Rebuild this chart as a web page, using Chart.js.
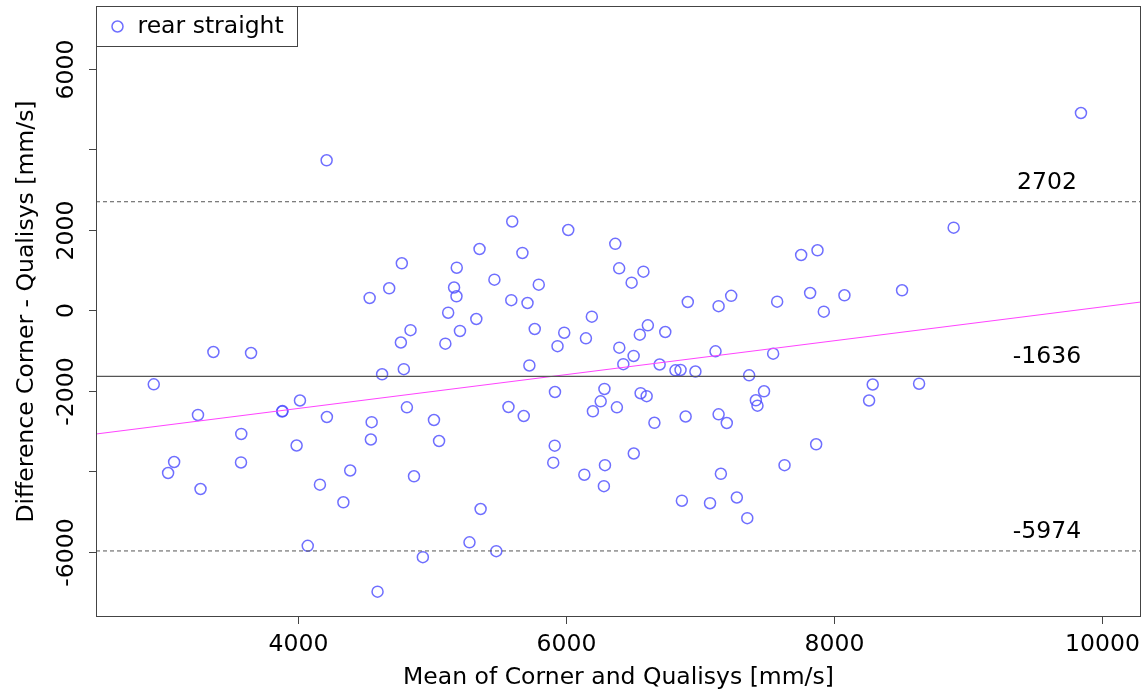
<!DOCTYPE html>
<html><head><meta charset="utf-8">
<script src="https://cdn.jsdelivr.net/npm/chart.js@4.4.0/dist/chart.umd.min.js"></script>
<style>html,body{margin:0;padding:0;background:#fff;}canvas{display:block;}</style>
</head><body>
<canvas id="c" width="1147" height="692"></canvas>
<script>
// Mean of Corner and Qualisys [mm/s]
const meanX = [2924,3369,3650,3254,3076,3031,3273,3577,3575,3882,3885,4015,3990,4216,4164,4390,4339,4073,4594,4214,
  4550,4544,4628,4768,4840,4790,4813,4866,4932,5015,5053,4775,4681,4535,5100,5121,5165,5183,5185,5209,5331,5355,5363,5280,5480,5466,5571,5599,5592,5675,5685,5713,5727,5767,5797,
  5918,5916,5905,5937,5987,6017,6137,6149,6193,6201,6259,6287,6291,6283,6368,6397,6380,6398,6428,6490,6505,6506,6551,6557,6578,6602,6611,6660,6699,6741,6817,6855,6865,6893,6909,6966,7075,7116,7139,7139,7156,7200,7233,7275,7353,7367,7417,7429,7478,
  7546,7576,7631,7755,7822,7867,7877,7924,8078,8262,8289,8508,8635,8893,9843];
// Difference Corner - Qualisys [mm/s]
const diffY = [-1834,-1031,-1056,-2596,-3764,-4037,-4435,-3068,-3776,-2509,-2500,-2236,-3354,-2646,-4328,-3975,-4765,-5846,-6986,3732,
  -2775,-3205,-1585,-795,-489,-1458,-2405,-4119,-6129,-2721,-3242,1173,552,311,-825,-55,571,353,1063,-509,-211,1528,-4932,-5759,-5980,765,-2398,2211,256,1429,-2621,186,-1366,-460,641,
  -2025,-3359,-3781,-887,-552,2000,-4080,-691,-154,-2504,-2256,-1950,-3843,-4365,1657,1048,-2405,-924,-1334,691,-1130,-3553,-601,-2055,964,-2129,-368,-2790,-1342,-534,-1486,-1478,-4726,-2634,211,-1516,-4788,-1014,107,-2579,-4057,-2795,365,-4646,-5160,-1610,-2231,-2365,-2007,
  -1073,219,-3843,1379,435,-3324,1496,-30,378,-2236,-1839,502,-1819,2057,4907];
// fitted (regression) line end points
const fitX = [2493, 10291];
const fitY = [-3068, 211];
// mean difference and limits of agreement
const limitValues = [2702, -1636, -5974];
const limitLabels = ['2702', '-1636', '-5974'];
// axes
const xLimits = [2493, 10291];
const yLimits = [-7615, 7565];
const xTickValues = [4000, 6000, 8000, 10000];
const xTickLabels = ['4000', '6000', '8000', '10000'];
const yTickValues = [-6000, -4000, -2000, 0, 2000, 4000, 6000];
const yTickLabels = ['-6000', '', '-2000', '0', '2000', '', '6000'];
const seriesName = 'rear straight';
const xTitle = 'Mean of Corner and Qualisys [mm/s]';
const yTitle = 'Difference Corner - Qualisys [mm/s]';

const FONT = '23.5px "DejaVu Sans"';
const POINT_COLOR = 'rgba(75,75,255,0.8)';

const hline = v => [{x: xLimits[0], y: v}, {x: xLimits[1], y: v}];

const overlay = {
  id: 'overlay',
  afterDraw(chart) {
    const ctx = chart.ctx, a = chart.chartArea;
    const xs = chart.scales.x, ys = chart.scales.y;
    ctx.save();
    // frame
    ctx.strokeStyle = '#444'; ctx.lineWidth = 1;
    ctx.strokeRect(Math.round(a.left) + 0.5, Math.round(a.top) + 0.5, Math.round(a.right - a.left) - 1, Math.round(a.bottom - a.top) - 1);
    ctx.fillStyle = '#000'; ctx.font = FONT;
    // x ticks
    ctx.textAlign = 'center'; ctx.textBaseline = 'middle';
    xTickValues.forEach((v, i) => {
      const px = Math.round(xs.getPixelForValue(v)) + 0.5;
      ctx.beginPath(); ctx.moveTo(px, a.bottom); ctx.lineTo(px, a.bottom + 7); ctx.stroke();
      ctx.fillText(xTickLabels[i], px, a.bottom + 28);
    });
    // y ticks
    yTickValues.forEach((v, i) => {
      const py = Math.round(ys.getPixelForValue(v)) + 0.5;
      ctx.beginPath(); ctx.moveTo(a.left, py); ctx.lineTo(a.left - 7, py); ctx.stroke();
      if (yTickLabels[i]) {
        ctx.save(); ctx.translate(a.left - 29, py); ctx.rotate(-Math.PI / 2);
        ctx.fillText(yTickLabels[i], 0, 0); ctx.restore();
      }
    });
    // titles
    ctx.fillText(xTitle, (a.left + a.right) / 2, a.bottom + 61);
    ctx.save(); ctx.translate(27, (a.top + a.bottom) / 2); ctx.rotate(-Math.PI / 2);
    ctx.fillText(yTitle, 0, 0); ctx.restore();
    // limit labels
    limitValues.forEach((v, i) => {
      const py = ys.getPixelForValue(v);
      ctx.fillText(limitLabels[i], 1047, py - 19);
    });
    // legend
    const lx = Math.round(a.left) + 0.5, ly = Math.round(a.top) + 0.5;
    ctx.strokeStyle = '#444';
    ctx.fillStyle = '#fff';
    ctx.fillRect(lx, ly, 201, 40);
    ctx.strokeRect(lx, ly, 201, 40);
    ctx.strokeStyle = POINT_COLOR; ctx.lineWidth = 1.5;
    ctx.beginPath(); ctx.arc(lx + 21, ly + 20, 5.5, 0, Math.PI * 2); ctx.stroke();
    ctx.fillStyle = '#000'; ctx.textAlign = 'left';
    ctx.fillText(seriesName, lx + 41, ly + 20);
    ctx.restore();
  }
};

new Chart(document.getElementById('c'), {
  type: 'scatter',
  data: {
    datasets: [
      {label: 'upper', data: hline(limitValues[0]), showLine: true, pointRadius: 0, borderColor: '#555', borderWidth: 1, borderDash: [4, 3]},
      {label: 'mean', data: hline(limitValues[1]), showLine: true, pointRadius: 0, borderColor: '#555', borderWidth: 1.2},
      {label: 'lower', data: hline(limitValues[2]), showLine: true, pointRadius: 0, borderColor: '#555', borderWidth: 1, borderDash: [4, 3]},
      {label: 'fit', data: fitX.map((x, i) => ({x, y: fitY[i]})), showLine: true, pointRadius: 0, borderColor: '#ff44ff', borderWidth: 1.2},
      {label: seriesName, data: meanX.map((x, i) => ({x, y: diffY[i]})), showLine: false,
        pointRadius: 5.5, pointHoverRadius: 5.5, pointBorderWidth: 1.5, borderColor: POINT_COLOR, backgroundColor: 'rgba(0,0,0,0)'}
    ]
  },
  options: {
    responsive: false, animation: false, devicePixelRatio: 1,
    layout: {autoPadding: false, padding: {left: 96, right: 6, top: 6, bottom: 75}},
    plugins: {legend: {display: false}, tooltip: {enabled: false}},
    scales: {
      x: {type: 'linear', display: false, min: xLimits[0], max: xLimits[1]},
      y: {type: 'linear', display: false, min: yLimits[0], max: yLimits[1]}
    }
  },
  plugins: [overlay]
});
</script>
</body></html>
